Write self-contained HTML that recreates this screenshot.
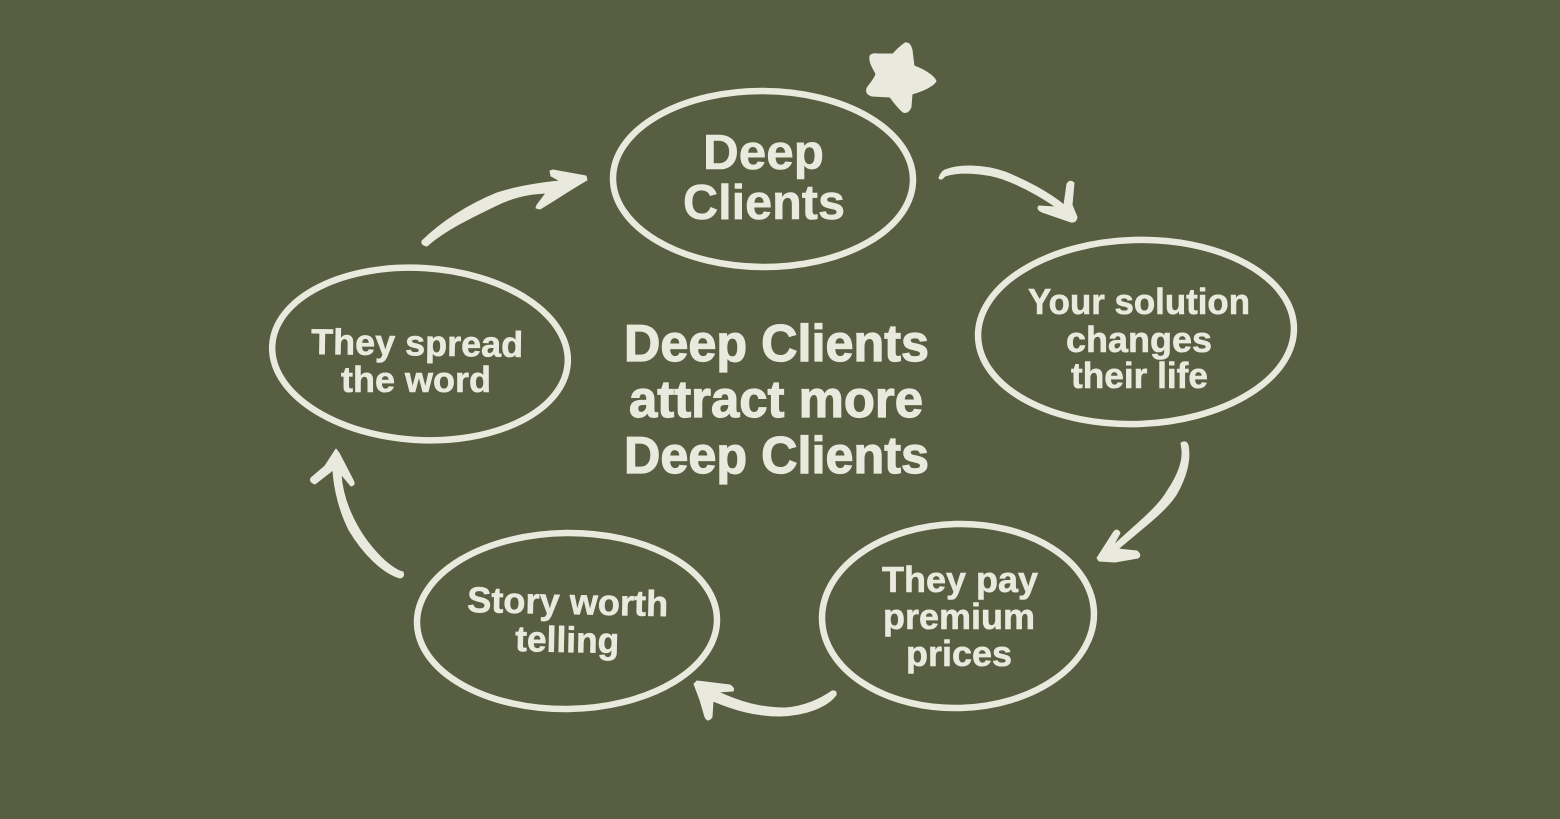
<!DOCTYPE html>
<html><head><meta charset="utf-8"><style>
html,body{margin:0;padding:0;background:#585e41;width:1560px;height:819px;overflow:hidden}
svg{display:block}
text{font-family:"Liberation Sans",sans-serif;font-weight:700;fill:#e9eadd;text-anchor:start;stroke:#e9eadd;stroke-width:.6}
.c{stroke-width:1.2}
.n{fill:none;stroke:#e9eadd;stroke-width:6.5}
.a{fill:#e9eadd;stroke:#e9eadd;stroke-width:1;stroke-linejoin:round}
</style></head><body>
<svg width="1560" height="819" viewBox="0 0 1560 819" xmlns="http://www.w3.org/2000/svg">
<rect width="1560" height="819" fill="#585e41"/>
<ellipse class="n" cx="763" cy="179" rx="150" ry="88" transform="rotate(.4 763 179)"/>
<ellipse class="n" cx="1136" cy="332" rx="158" ry="92" transform="rotate(-1.8 1136 332)"/>
<ellipse class="n" cx="958" cy="616" rx="136" ry="92" transform="rotate(-1.5 958 616)"/>
<ellipse class="n" cx="567" cy="621" rx="150" ry="88" transform="rotate(-.7 567 621)"/>
<ellipse class="n" cx="420" cy="354" rx="148" ry="86" transform="rotate(3.5 420 354)"/>
<path fill="#e9eadd" stroke="#e9eadd" stroke-width="1" stroke-linejoin="round" d="M905 43Q910 42 912 50L914 66C925 70 934 76 936 81C934 86 922 91 912 94L911 107Q908 114 903 112Q898 108 890 97L872 96Q865 94 867 88C870 84 875 78 876 74C872 66 869 62 870 56Q872 53 878 54L893 54Q898 48 905 43Z"/>
<path class="a" d="M939 178Q941 172 945 170C960 164 985 165 1005 172C1025 180 1048 192 1064 205L1067 184Q1070 179 1074 183L1072 205L1077 217Q1076 223 1071 222L1042 212Q1036 209 1039 206L1056 207C1040 196 1022 186 1003 179C985 173 960 171 945 176Q941 181 939 178Z"/>
<path class="a" d="M1181 443Q1186 440 1188 445C1191 460 1186 478 1176 495C1165 512 1140 530 1118 549L1137 551Q1142 555 1138 558L1115 562L1099 561L1097 558L1113 533Q1117 527 1120 533L1113 546C1135 525 1158 508 1168 490C1178 475 1183 462 1182 450Z"/>
<path class="a" d="M694 684L697 681L730 685Q735 688 733 691L718 692C740 702 760 708 785 708C805 707 822 698 832 691Q837 690 836 695C828 706 808 715 780 716C755 716 735 710 713 701L712 717Q708 723 705 717L700 700Z"/>
<path class="a" d="M336 449L339 453L353 480Q356 485 351 486L341 474C343 505 360 538 385 561C392 567 398 571 403 572Q405 577 400 578C382 573 362 552 349 530C340 512 334 490 333 470L315 484Q309 482 311 478L325 466Z"/>
<path class="a" d="M427 246Q421 245 422 241C442 221 470 204 497 193C518 186 540 183 560 181L551 176L550 171L553 170L586 176L587 180C570 190 555 200 540 209L536 208L537 205L546 193C525 194 512 198 497 205C472 217 445 230 427 246Z"/>
<text x="703" y="169" font-size="49" textLength="121" lengthAdjust="spacingAndGlyphs">Deep</text>
<text x="683" y="219" font-size="49" textLength="162" lengthAdjust="spacingAndGlyphs">Clients</text>
<text x="1028" y="314" font-size="36" textLength="222" lengthAdjust="spacingAndGlyphs">Your solution</text>
<text x="1066" y="352" font-size="36" textLength="146" lengthAdjust="spacingAndGlyphs">changes</text>
<text x="1071" y="388" font-size="36" textLength="137" lengthAdjust="spacingAndGlyphs">their life</text>
<text x="882" y="592" font-size="36" textLength="156" lengthAdjust="spacingAndGlyphs">They pay</text>
<text x="883" y="629" font-size="36" textLength="152" lengthAdjust="spacingAndGlyphs">premium</text>
<text x="906" y="666" font-size="36" textLength="106" lengthAdjust="spacingAndGlyphs">prices</text>
<text x="467" y="612" font-size="36" textLength="201" lengthAdjust="spacingAndGlyphs" transform="rotate(1.2 467 612)">Story worth</text>
<text x="515" y="651" font-size="36" textLength="104" lengthAdjust="spacingAndGlyphs" transform="rotate(1.2 515 651)">telling</text>
<text x="311" y="354" font-size="36" textLength="212" lengthAdjust="spacingAndGlyphs" transform="rotate(.8 311 354)">They spread</text>
<text x="341" y="392" font-size="36" textLength="150" lengthAdjust="spacingAndGlyphs">the word</text>
<text class="c" x="624" y="361" font-size="52" textLength="305" lengthAdjust="spacingAndGlyphs">Deep Clients</text>
<text class="c" x="629" y="417" font-size="52" textLength="294" lengthAdjust="spacingAndGlyphs">attract more</text>
<text class="c" x="624" y="473" font-size="52" textLength="305" lengthAdjust="spacingAndGlyphs">Deep Clients</text>
</svg>
</body></html>
